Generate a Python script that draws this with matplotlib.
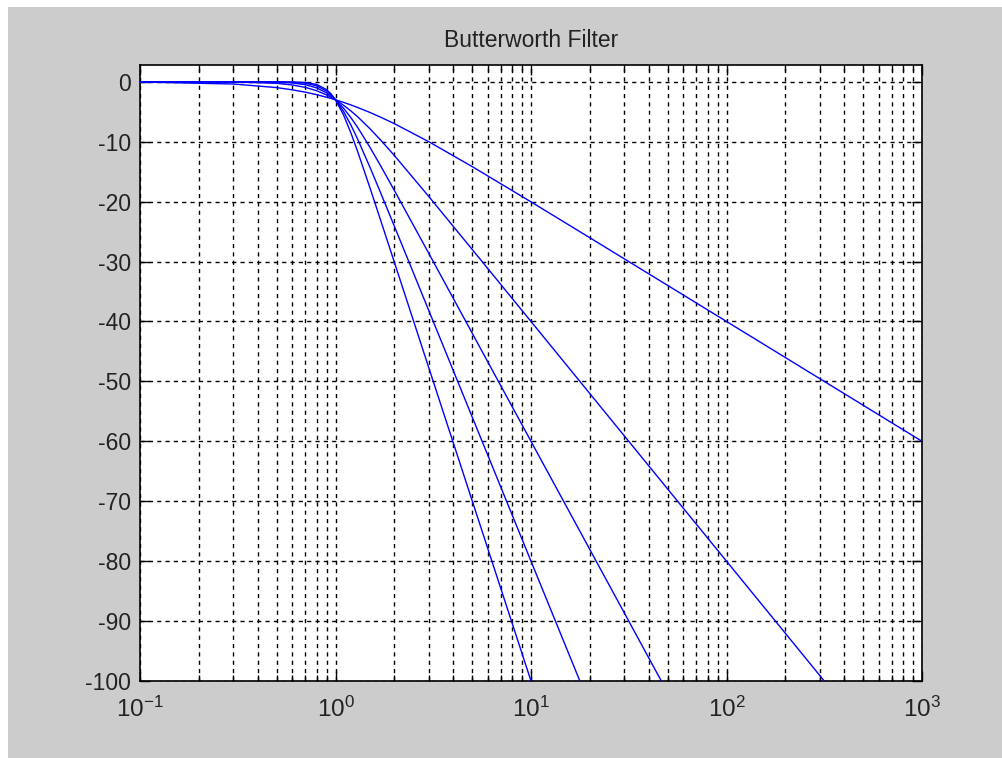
import matplotlib
matplotlib.use("Agg")
import matplotlib.pyplot as plt
from matplotlib.patches import Rectangle
from matplotlib.ticker import LogLocator, FixedLocator, NullFormatter

plt.rcParams['font.family'] = ['Liberation Sans', 'DejaVu Sans']
plt.rcParams['axes.unicode_minus'] = False
plt.rcParams['mathtext.fontset'] = 'custom'
plt.rcParams['mathtext.rm'] = 'Liberation Sans'
plt.rcParams['mathtext.it'] = 'Liberation Sans'

# frequency (rad/s) and magnitude (dB) for filter orders 1..5
freq = [0.1, 0.3, 0.5, 0.6, 0.7, 0.8, 0.9, 0.95, 1.0, 1.1, 1.2, 1.3, 1.5, 1.7,
        2, 3, 5, 10, 20, 50, 100, 200, 500, 1000]
mag_order1 = [-0.04, -0.37, -0.97, -1.34, -1.73, -2.15, -2.58, -2.79, -3.01, -3.44, -3.87, -4.30,
              -5.12, -5.90, -6.99, -10.00, -14.15, -20.04, -26.03, -33.98, -40.00, -46.02, -53.98, -60.00]
mag_order2 = [0.00, -0.03, -0.26, -0.53, -0.93, -1.49, -2.19, -2.59, -3.01, -3.92, -4.88, -5.86,
              -7.83, -9.71, -12.30, -19.14, -27.97, -40.00, -52.04, -67.96, -80.00, -92.04, -107.96, -120.00]
mag_order3 = [0.00, 0.00, -0.07, -0.20, -0.48, -1.01, -1.85, -2.39, -3.01, -4.43, -6.01, -7.65,
              -10.93, -14.00, -18.13, -28.63, -41.94, -60.00, -78.06, -101.94, -120.00, -138.06, -161.94, -180.00]
mag_order4 = [0.00, 0.00, -0.02, -0.07, -0.24, -0.67, -1.55, -2.21, -3.01, -4.97, -7.24, -9.62,
              -14.25, -18.50, -24.10, -38.17, -55.92, -80.00, -104.08, -135.92, -160.00, -184.08, -215.92, -240.00]
mag_order5 = [0.00, 0.00, 0.00, -0.03, -0.12, -0.44, -1.30, -2.04, -3.01, -5.56, -8.57, -11.70,
              -17.68, -23.07, -30.11, -47.71, -69.90, -100.00, -130.10, -169.90, -200.00, -230.10, -269.90, -300.00]
series = [mag_order1, mag_order2, mag_order3, mag_order4, mag_order5]

y_ticks = [0, -10, -20, -30, -40, -50, -60, -70, -80, -90, -100]
x_ticks = [0.1, 1, 10, 100, 1000]
x_tick_labels = [r'$10^{-1}$', r'$10^{0}$', r'$10^{1}$', r'$10^{2}$', r'$10^{3}$']
title = 'Butterworth Filter'

W, H = 1002, 758
fig = plt.figure(figsize=(W / 100, H / 100), dpi=100, facecolor='white')
fig.patches.append(Rectangle((8 / W, 0), 1 - 8 / W, 1 - 7 / H, transform=fig.transFigure,
                             facecolor='#cccccc', edgecolor='none', zorder=-10))

ax = fig.add_axes([140 / W, (H - 681) / H, 782 / W, 616 / H])
ax.set_facecolor('white')

for mag in series:
    ax.plot(freq, mag, color='#0000ff', lw=1.0, zorder=3)

ax.set_xscale('log')
ax.set_xlim(0.1, 1000)
ax.set_ylim(-100, 2.8)

ax.xaxis.set_major_locator(FixedLocator(x_ticks))
ax.set_xticklabels(x_tick_labels)
ax.xaxis.set_minor_locator(LogLocator(base=10, subs=range(2, 10), numticks=20))
ax.xaxis.set_minor_formatter(NullFormatter())
ax.set_yticks(y_ticks)
ax.set_yticklabels([str(v) for v in y_ticks])

grid_kw = dict(color='black', linestyle=(0, (3, 3)), linewidth=1.0)
ax.grid(True, which='major', axis='both', **grid_kw)
ax.grid(True, which='minor', axis='x', **grid_kw)
ax.set_axisbelow(True)

ax.tick_params(which='both', direction='in', top=True, right=True, colors='black',
               width=1.0, labelsize=16.5)
ax.tick_params(which='major', length=7)
ax.tick_params(which='minor', length=4)
ax.tick_params(axis='x', which='major', pad=11.5, labelsize=17.5)
ax.tick_params(axis='y', which='major', pad=6.5)
for lab in ax.get_xticklabels() + ax.get_yticklabels():
    lab.set_color('#222222')
for s in ax.spines.values():
    s.set_linewidth(1.2)
    s.set_color('black')

ax.set_title(title, fontsize=16.5, pad=13, color='#222222')

fig.savefig('out.png', dpi=100, facecolor=fig.get_facecolor())
